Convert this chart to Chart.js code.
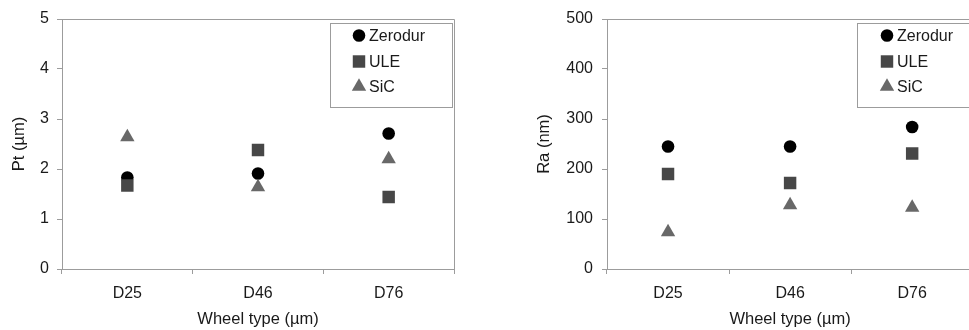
<!DOCTYPE html>
<html>
<head>
<meta charset="utf-8">
<script src="https://cdn.jsdelivr.net/npm/chart.js@4.4.1/dist/chart.umd.min.js"></script>
<style>
  html, body { margin: 0; padding: 0; background: #fff; overflow: hidden; width: 969px; height: 330px; }
  canvas { position: absolute; top: 0; }
  #ptChart { left: 0; }
  #raChart { left: 480px; }
</style>
</head>
<body>
<canvas id="ptChart" width="480" height="330"></canvas>
<canvas id="raChart" width="502" height="330"></canvas>
<script>
// ---- data ----
const wheels = ['D25', 'D46', 'D76'];
const materials = ['Zerodur', 'ULE', 'SiC'];

// Pt (µm), left plot
const ptZerodur = [1.83, 1.91, 2.71];
const ptULE     = [1.67, 2.38, 1.44];
const ptSiC     = [2.64, 1.64, 2.20];
const ptTicks   = [0, 1, 2, 3, 4, 5];

// Ra (nm), right plot
const raZerodur = [245, 245, 284];
const raULE     = [190, 172, 231];
const raSiC     = [74, 128, 123];
const raTicks   = [0, 100, 200, 300, 400, 500];

// ---- style ----
const FONT = '"Liberation Sans", Arial, sans-serif';
const TEXT = '#1a1a1a';
const AXIS = '#9c9c9c';
const markers = [
  { style: 'circle',   color: '#000000', radius: 6.3 },
  { style: 'rect',     color: '#474747', radius: 8.8 },
  { style: 'triangle', color: '#686868', radius: 8.3 }
];

function buildDatasets(series) {
  return series.map((vals, i) => ({
    label: materials[i],
    data: vals,
    showLine: false,
    pointStyle: markers[i].style,
    pointRadius: markers[i].radius,
    pointHoverRadius: markers[i].radius,
    pointBackgroundColor: markers[i].color,
    pointBorderColor: markers[i].color,
    pointBorderWidth: 0,
    order: 3 - i   // SiC drawn on top, like the figure
  }));
}

// top + right border of the plot box
const framePlugin = {
  id: 'frame',
  afterDraw(chart) {
    const { ctx, chartArea: a } = chart;
    ctx.save();
    ctx.strokeStyle = AXIS;
    ctx.lineWidth = 1;
    ctx.beginPath();
    ctx.moveTo(a.left, a.top + 0.5);
    ctx.lineTo(a.right + 0.5, a.top + 0.5);
    ctx.lineTo(a.right + 0.5, a.bottom);
    ctx.stroke();
    ctx.restore();
  }
};

// boxed legend inside the plot, like the Excel original
const boxLegendPlugin = {
  id: 'boxLegend',
  afterDraw(chart, args, opts) {
    const { ctx } = chart;
    const b = opts.box;
    ctx.save();
    ctx.fillStyle = '#fff';
    ctx.fillRect(b.x1, b.y1, b.x2 - b.x1, b.y2 - b.y1);
    ctx.strokeStyle = AXIS;
    ctx.lineWidth = 1;
    ctx.strokeRect(b.x1 + 0.5, b.y1 + 0.5, b.x2 - b.x1, b.y2 - b.y1);
    ctx.font = '16px ' + FONT;
    ctx.textBaseline = 'middle';
    chart.data.datasets.forEach((ds, i) => {
      const y = opts.rows[i];
      ctx.fillStyle = ds.pointBackgroundColor;
      ctx.strokeStyle = ds.pointBorderColor;
      Chart.helpers.drawPoint(ctx, { pointStyle: ds.pointStyle, radius: ds.pointRadius, borderWidth: 0 }, opts.markerX, y);
      ctx.fillStyle = TEXT;
      ctx.fillText(ds.label, opts.textX, y + 1);
    });
    ctx.restore();
  }
};

function makeChart(id, cfg) {
  return new Chart(document.getElementById(id), {
    type: 'line',
    data: { labels: wheels, datasets: buildDatasets(cfg.series) },
    plugins: [framePlugin, boxLegendPlugin],
    options: {
      responsive: false,
      animation: false,
      layout: { padding: cfg.padding },
      plugins: {
        legend: { display: false },
        tooltip: { enabled: false },
        boxLegend: cfg.legend
      },
      scales: {
        x: {
          type: 'category',
          offset: true,
          grid: { offset: true, drawOnChartArea: false, drawTicks: true, tickLength: 5, color: AXIS },
          border: { color: AXIS },
          ticks: { color: TEXT, font: { family: FONT, size: 16 }, padding: 10 },
          title: { display: true, text: 'Wheel type (µm)', color: TEXT, font: { family: FONT, size: 16.5 }, padding: { top: 0, bottom: 1 } },
          afterFit(s) { s.height = 61; }
        },
        y: {
          min: cfg.ticks[0],
          max: cfg.ticks[cfg.ticks.length - 1],
          afterBuildTicks(s) { s.ticks = cfg.ticks.map(v => ({ value: v })); },
          grid: { drawOnChartArea: false, tickLength: 5, color: AXIS },
          border: { color: AXIS },
          ticks: { color: TEXT, font: { family: FONT, size: 16 }, padding: cfg.tickPad },
          title: { display: true, text: cfg.yTitle, color: TEXT, font: { family: FONT, size: 16.5 }, padding: { top: 10, bottom: 0 } },
          afterFit(s) { s.width = cfg.yWidth; }
        }
      }
    }
  });
}

makeChart('ptChart', {
  series: [ptZerodur, ptULE, ptSiC],
  ticks: ptTicks,
  yTitle: 'Pt (µm)',
  padding: { left: 0, right: 26, top: 19, bottom: 0 },
  yWidth: 62,
  tickPad: 8,
  legend: { box: { x1: 330, y1: 23, x2: 452, y2: 107 }, markerX: 359, textX: 369, rows: [35.5, 61.5, 86.5] }
});

makeChart('raChart', {
  series: [raZerodur, raULE, raSiC],
  ticks: raTicks,
  yTitle: 'Ra (nm)',
  padding: { left: 45, right: 1, top: 19, bottom: 0 },
  yWidth: 82,
  tickPad: 9,
  legend: { box: { x1: 377, y1: 23, x2: 540, y2: 107 }, markerX: 407, textX: 417, rows: [35.5, 61.5, 86.5] }
});
</script>
</body>
</html>
